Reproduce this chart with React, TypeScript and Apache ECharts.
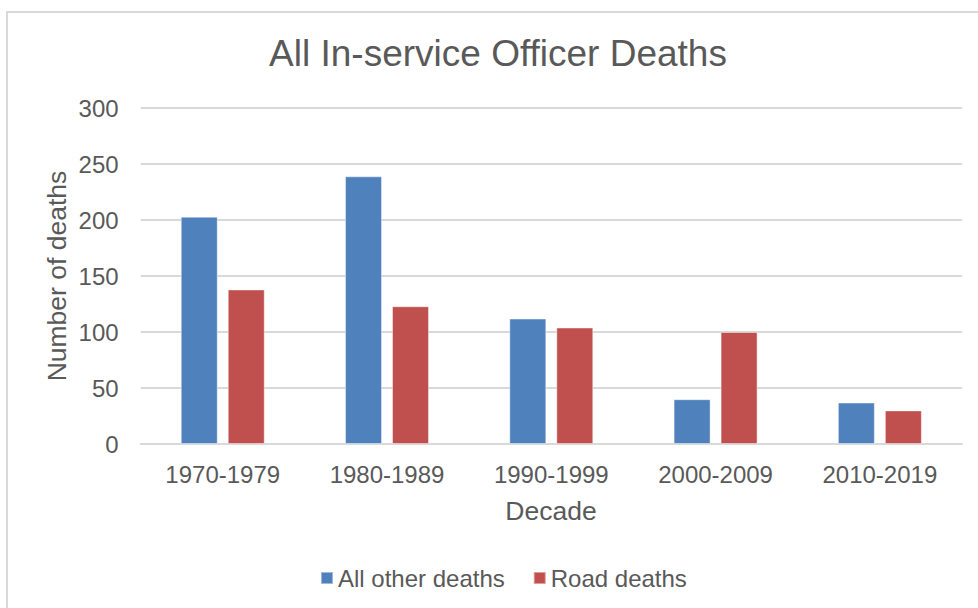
import React, { useEffect, useRef } from "react";
import * as echarts from "echarts";

// Decades on the category axis
const decades = ["1970-1979", "1980-1989", "1990-1999", "2000-2009", "2010-2019"];
// Deaths per decade
const otherDeaths = [203, 239, 112, 40, 37];
const roadDeaths = [138, 123, 104, 100, 30];
// Value-axis range
const yMin = 0;
const yMax = 300;
const yStep = 50;

const FONT = "'Liberation Sans', Arial, sans-serif";
const TEXT = "#595959";
const GRID = "#d9d9d9";

export default function App() {
  const ref = useRef<HTMLDivElement>(null);

  useEffect(() => {
    if (!ref.current) return;
    const chart = echarts.init(ref.current, null, { renderer: "svg" });
    chart.setOption({
      animation: false,
      backgroundColor: "#ffffff",
      textStyle: { fontFamily: FONT, color: TEXT },
      grid: { left: 140.6, right: 16, top: 108, bottom: 164, containLabel: false },
      legend: {
        left: 320,
        top: 566,
        padding: 0,
        icon: "rect",
        itemWidth: 12,
        itemHeight: 12,
        itemGap: 28,
        textStyle: { fontFamily: FONT, fontSize: 24, color: TEXT, padding: [0, 0, 0, 0] },
        data: ["All other deaths", "Road deaths"],
      },
      xAxis: {
        type: "category",
        data: decades,
        axisLine: { show: true, lineStyle: { color: GRID, width: 2 } },
        axisTick: { show: false },
        axisLabel: { fontFamily: FONT, fontSize: 24, color: TEXT, margin: 18 },
      },
      yAxis: {
        type: "value",
        min: yMin,
        max: yMax,
        interval: yStep,
        axisLine: { show: false },
        axisTick: { show: false },
        splitLine: { lineStyle: { color: GRID, width: 2 } },
        axisLabel: { fontFamily: FONT, fontSize: 24, color: TEXT, margin: 22 },
      },
      series: [
        {
          name: "All other deaths",
          type: "bar",
          data: otherDeaths,
          barWidth: 37,
          barGap: "27%",
          itemStyle: { color: "#4f81bd", borderColor: "rgba(255,255,255,0.45)", borderWidth: 1 },
        },
        {
          name: "Road deaths",
          type: "bar",
          data: roadDeaths,
          barWidth: 37,
          barGap: "27%",
          itemStyle: { color: "#c0504d", borderColor: "rgba(255,255,255,0.45)", borderWidth: 1 },
        },
      ],
      graphic: [
        {
          type: "rect",
          silent: true,
          shape: { x: 7, y: 12, width: 1000, height: 700 },
          style: { fill: "none", stroke: GRID, lineWidth: 2 },
        },
        {
          type: "text",
          x: 498,
          y: 53,
          style: {
            text: "All In-service Officer Deaths",
            fontFamily: FONT,
            fontSize: 37,
            fill: TEXT,
            align: "center",
            verticalAlign: "middle",
          },
        },
        {
          type: "text",
          x: 551,
          y: 511,
          style: {
            text: "Decade",
            fontFamily: FONT,
            fontSize: 26.5,
            fill: TEXT,
            align: "center",
            verticalAlign: "middle",
          },
        },
        {
          type: "text",
          x: 57,
          y: 276,
          rotation: Math.PI / 2,
          style: {
            text: "Number of deaths",
            fontFamily: FONT,
            fontSize: 26.5,
            fill: TEXT,
            align: "center",
            verticalAlign: "middle",
          },
        },
      ],
    });
    return () => chart.dispose();
  }, []);

  return (
    <div
      ref={ref}
      style={{ position: "fixed", left: 0, top: 0, width: 978, height: 608, background: "#fff" }}
    />
  );
}
